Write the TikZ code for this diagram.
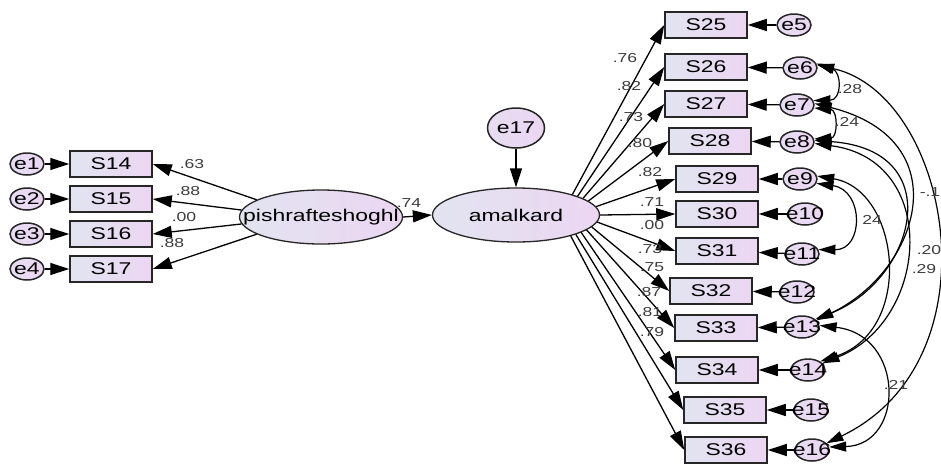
\documentclass[tikz,border=0pt]{standalone}
\usepackage{fontspec}
\setmainfont{Liberation Sans}[FakeStretch=1.35]
\usetikzlibrary{arrows.meta,shapes.geometric}
\definecolor{cL}{RGB}{226,228,240}
\definecolor{cR}{RGB}{236,214,242}
\definecolor{lab}{RGB}{60,60,60}
\begin{document}
\begin{tikzpicture}[x=1pt,y=-1pt,
  big/.style={font=\fontsize{17}{17}\selectfont},
  box/.style={draw=black!85, line width=1.5pt, rectangle, minimum width=82pt, minimum height=26pt, inner sep=0pt, left color=cL, right color=cR, big},
  err/.style={draw=black!85, line width=1.5pt, ellipse, minimum width=34pt, minimum height=22pt, inner sep=0pt, left color=cL!50!cR, right color=cR, label={[big]center:#1}},
  lat/.style={draw=black!85, line width=1.3pt, ellipse, minimum width=#1, minimum height=54pt, inner sep=0pt, left color=cL, right color=cR},
  ld/.style={line width=1.3pt, -{Triangle[length=19pt,width=12pt]}},
  cov/.style={line width=1.2pt, {Triangle[length=17pt,width=10pt]}-{Triangle[length=17pt,width=10pt]}},
  num/.style={font=\fontsize{13}{13}\selectfont, text=lab, inner sep=0pt}
]
\fill[white] (0,0) rectangle (941,464);
\useasboundingbox (0,0) rectangle (941,464);

% latent variables
\node[lat=163pt, label={[big]center:pishrafteshoghl}] (pish) at (321,217) {};
\node[lat=167pt, label={[big]center:amalkard}] (amal) at (516,215) {};
\node[err=e17, minimum width=57pt, minimum height=40pt] (e17) at (516,128) {};

% left indicators
\node[box] (S14) at (111,164) {S14};
\node[box] (S15) at (111,199) {S15};
\node[box] (S16) at (111,234) {S16};
\node[box] (S17) at (111,269) {S17};
\node[err=e1] (e1) at (27,164) {};
\node[err=e2] (e2) at (27,199) {};
\node[err=e3] (e3) at (27,234) {};
\node[err=e4] (e4) at (27,269) {};

% right indicators
\node[box] (S25) at (706,25) {S25};
\node[box] (S26) at (706,67) {S26};
\node[box] (S27) at (706,104) {S27};
\node[box] (S28) at (710,141) {S28};
\node[box] (S29) at (717,179) {S29};
\node[box] (S30) at (717,214) {S30};
\node[box] (S31) at (717,251) {S31};
\node[box] (S32) at (711,291) {S32};
\node[box] (S33) at (716,328) {S33};
\node[box] (S34) at (717,370) {S34};
\node[box] (S35) at (725,410) {S35};
\node[box] (S36) at (726,450) {S36};

\node[err=e5] (e5) at (794,25) {};
\node[err=e6] (e6) at (800,68) {};
\node[err=e7] (e7) at (797,105) {};
\node[err=e8] (e8) at (797,142) {};
\node[err=e9] (e9) at (800,179) {};
\node[err=e10] (e10) at (805,214) {};
\node[err=e11] (e11) at (802,254) {};
\node[err=e12] (e12) at (797,292) {};
\node[err=e13] (e13) at (802,327) {};
\node[err=e14] (e14) at (808,370) {};
\node[err=e15] (e15) at (811,410) {};
\node[err=e16] (e16) at (812,450) {};

% error arrows
\foreach \e/\s in {e1/S14,e2/S15,e3/S16,e4/S17,e5/S25,e6/S26,e7/S27,e8/S28,e9/S29,e10/S30,e11/S31,e12/S32,e13/S33,e14/S34,e15/S35,e16/S36}
  \draw[ld] (\e) -- (\s);
\draw[ld] (e17) -- (amal);

% structural path
\draw[ld] (pish.east) -- (amal.west);

% left loadings
\draw[ld] (pish.165) -- (S14.east);
\draw[ld] (pish.175) -- (S15.east);
\draw[ld] (pish.185) -- (S16.east);
\draw[ld] (pish.195) -- (S17.east);

% right loadings
\foreach \a/\s in {20/S25,17/S26,14/S27,11/S28,6/S29,0/S30,-5/S31,-9/S32,-12/S33,-15/S34,-18/S35,-21/S36}
  \draw[ld] (amal.\a) -- (\s.west);

% covariances
\draw[cov] (e6.15) .. controls (842,72) and (842,100) .. (e7.15);
\draw[cov] (e7.-10) .. controls (838,110) and (838,138) .. (e8.10);
\draw[cov] (e9.-15) .. controls (864,190) and (864,250) .. (e11.15);
\draw[cov] (e13.5) .. controls (905,335) and (905,445) .. (e16.10);
\draw[cov] (e6.10) .. controls (950,95) and (1000,360) .. (e16.25);
\draw[cov] (e7.5) .. controls (960,140) and (920,270) .. (e13.25);
\draw[cov] (e8.5) .. controls (950,150) and (915,280) .. (e13.30);
\draw[cov] (e8.-5) .. controls (940,160) and (930,320) .. (e14.25);
\draw[cov] (e9.10) .. controls (900,190) and (915,330) .. (e14.35);

% labels
\node[num] (n74) at (409,203) {.74};
\node[num] (n14) at (192,164) {.63};
\node[num] (n15) at (188,191) {.88};
\node[num] (n16) at (184,217) {.00};
\node[num] (n17) at (172,243) {.88};
\node[num] (n25) at (625,58) {.76};
\node[num] (n26) at (629,86) {.82};
\node[num] (n27) at (631,117) {.73};
\node[num] (n28) at (640,143) {.80};
\node[num] (n29) at (650,172) {.82};
\node[num] (n30) at (652,202) {.71};
\node[num] (n31) at (652,225) {.00};
\node[num] (n32) at (650,249) {.73};
\node[num] (n33) at (652,267) {.75};
\node[num] (n34) at (649,292) {.87};
\node[num] (n35) at (650,312) {.81};
\node[num] (n36) at (652,332) {.79};
\node[num] (c1) at (850,89) {.28};
\node[num] (c2) at (847,122) {.24};
\node[num] (c3) at (872,220) {24};
\node[num] (c4) at (930,192) {-.1};
\node[num] (c5) at (929,250) {.20};
\node[num] (c6) at (924,269) {.29};
\node[num] (c7) at (896,385) {.21};
\end{tikzpicture}
\end{document}
